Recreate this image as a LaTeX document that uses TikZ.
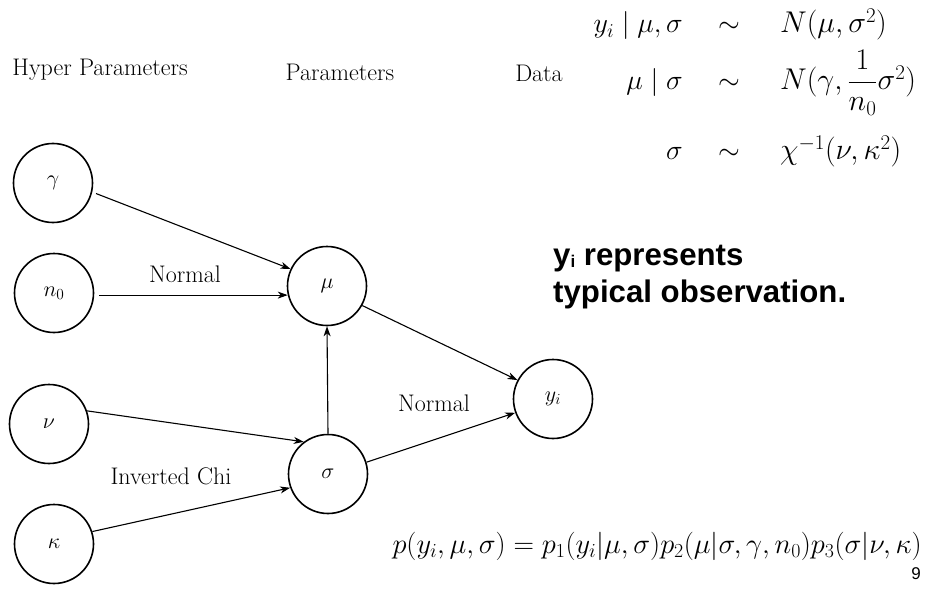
\RequirePackage{fix-cm}
\documentclass[tikz,border=0pt]{standalone}
\usepackage{fontspec}
\usepackage{amsmath}
\newfontfamily\lsans{Liberation Sans}
\usetikzlibrary{arrows.meta}
\begin{document}
\begin{tikzpicture}[x=1pt,y=-1pt,
  var/.style={circle,draw,line width=1.6pt,minimum size=79pt,inner sep=0pt,font=\fontsize{22}{26}\selectfont},
  lbl/.style={font=\fontsize{24}{28}\selectfont,inner sep=0pt},
  edge/.style={line width=1.1pt,-{Stealth[length=10pt,width=7pt,inset=3pt]}},
  eq/.style={font=\fontsize{28}{34}\selectfont,inner sep=0pt},
  eqr/.style={font=\fontsize{30}{36}\selectfont,inner sep=0pt,anchor=base west},
  note/.style={font=\lsans\bfseries\fontsize{31.2}{36}\selectfont,inner sep=0pt,anchor=base west}]
\useasboundingbox (0,0) rectangle (926,591);
% variables
\node[var] (g) at (53,183) {$\gamma$};
\node[var] (n) at (54,293) {$n_0$};
\node[var] (mu) at (327,286) {$\mu$};
\node[var] (nu) at (49,424) {$\nu$};
\node[var] (k) at (54,544) {$\kappa$};
\node[var] (s) at (328,474) {$\sigma$};
\node[var] (y) at (553,399) {$y_i$};
% edges
\draw[edge,shorten <=4pt] (g.-13) -- (mu.155);
\draw[edge,shorten <=5pt] (n.-3) -- (n.-3 -| mu.193);
\draw[edge] (nu.19) -- (s.127);
\draw[edge] (k.18) -- (s.200);
\draw[edge] (s.north) -- (mu.south);
\draw[edge] (s.17) -- (y.200);
\draw[edge] (mu.-29) -- (y.152);
% column labels
\node[lbl] (hp) at (100,70) {Hyper Parameters};
\node[lbl] (pp) at (340,72) {Parameters};
\node[lbl] (dd) at (539,73) {Data};
% edge labels
\node[lbl] (l1) at (185,274) {Normal};
\node[lbl] (l2) at (434,403) {Normal};
\node[lbl] (l3) at (171,476) {Inverted Chi};
% model equations
\node[eq,anchor=base east] (a1) at (683,33) {$y_i\mid\mu,\sigma$};
\node[eq,anchor=base] (b1) at (729,33) {$\sim$};
\node[eqr] (c1) at (780,33) {$N(\mu,\sigma^2)$};
\node[eq,anchor=base east] (a2) at (683,90) {$\mu\mid\sigma$};
\node[eq,anchor=base] (b2) at (729,90) {$\sim$};
\node[eqr] (c2) at (780,90) {$N(\gamma,\dfrac{1}{n_0}\sigma^2)$};
\node[eq,anchor=base east] (a3) at (683,160) {$\sigma$};
\node[eq,anchor=base] (b3) at (729,160) {$\sim$};
\node[eqr] (c3) at (780,160) {$\chi^{-1}(\nu,\kappa^2)$};
% joint
\node[eq,anchor=base east,font=\fontsize{28.4}{34}\selectfont] (pj) at (922,553) {$p(y_i,\mu,\sigma)=p_1(y_i|\mu,\sigma)p_2(\mu|\sigma,\gamma,n_0)p_3(\sigma|\nu,\kappa)$};
% note
\node[note] (t1) at (553,265) {y\raisebox{-2pt}{\fontsize{17}{17}\selectfont i} represents};
\node[note] (t2) at (553,302) {typical observation.};
\node[font=\lsans\fontsize{17}{20}\selectfont,inner sep=0pt] (pg) at (916,574) {9};
\end{tikzpicture}
\end{document}
